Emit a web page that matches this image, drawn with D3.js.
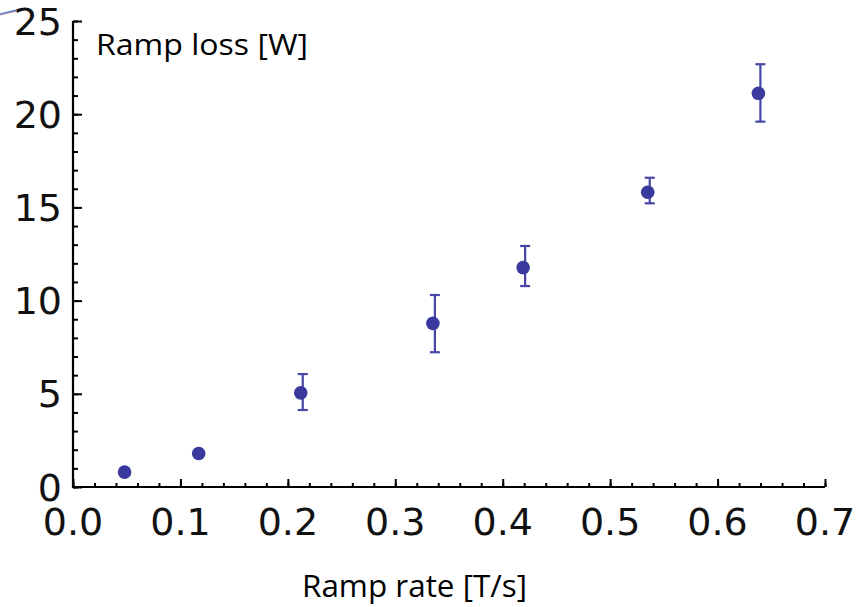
<!DOCTYPE html>
<html><head><meta charset="utf-8">
<script src="https://cdn.jsdelivr.net/npm/d3@7/dist/d3.min.js"></script>
<style>body{margin:0;background:#fff}svg{display:block}</style>
</head><body>
<svg id="c" width="866" height="607"></svg>
<script>
const rampRate = [0.048, 0.117, 0.212, 0.335, 0.419, 0.535, 0.638];
const rampLoss = [0.80, 1.80, 5.05, 8.78, 11.77, 15.81, 21.12];
const errLow   = [0.80, 1.80, 4.13, 7.23, 10.78, 15.22, 19.60];
const errHigh  = [0.80, 1.80, 6.06, 10.30, 12.93, 16.59, 22.68];
const xTicks = [0, 0.1, 0.2, 0.3, 0.4, 0.5, 0.6, 0.7];
const xTickLabels = ["0.0","0.1","0.2","0.3","0.4","0.5","0.6","0.7"];
const yTicks = [0, 5, 10, 15, 20, 25];
const yTickLabels = ["0","5","10","15","20","25"];
const xTitle = "Ramp rate [T/s]";
const yTitle = "Ramp loss [W]";

const svg = d3.select("#c");
const x = d3.scaleLinear().domain([0, 0.7]).range([73, 825]);
const y = d3.scaleLinear().domain([0, 25]).range([487, 21]);
const data = rampRate.map((r,i)=>({x:r,y:rampLoss[i],lo:errLow[i],hi:errHigh[i]}));

// small decorative stroke at top-left (cropped arrow)
svg.append("path").attr("d","M0,14 L17,10").attr("stroke","#d09090").attr("stroke-width",1.2).attr("fill","none").attr("transform","translate(0,1)");
svg.append("path").attr("d","M0,14 L17,10").attr("stroke","#5a7fd0").attr("stroke-width",1.6).attr("fill","none");

const font = "'DejaVu Sans', Verdana, sans-serif";

// x axis minor ticks
const xMinor = d3.range(0, 0.7001, 0.02);
const gxm = svg.append("g").attr("transform",`translate(0,${y(0)})`)
  .call(d3.axisTop(x).tickValues(xMinor).tickSize(4).tickFormat(""));
gxm.select(".domain").remove();
gxm.selectAll("line").attr("stroke","#000").attr("stroke-width",2);
const gx = svg.append("g").attr("transform",`translate(0,${y(0)})`)
  .call(d3.axisTop(x).tickValues(xTicks).tickSize(8).tickFormat(""));
gx.select(".domain").attr("d",`M${x(0)},0H${x(0.7)}`).attr("stroke","#000").attr("stroke-width",2.2);
gx.selectAll("line").attr("stroke","#000").attr("stroke-width",2);
svg.append("g").selectAll("text").data(xTicks).join("text")
  .attr("x",d=>x(d)).attr("y",535).attr("text-anchor","middle")
  .attr("font-family",font).attr("font-size",38).attr("fill","#111")
  .text((d,i)=>xTickLabels[i]);

// y axis
const yMinor = d3.range(0, 25.001, 1);
const gym = svg.append("g").attr("transform",`translate(${x(0)},0)`)
  .call(d3.axisRight(y).tickValues(yMinor).tickSize(5).tickFormat(""));
gym.select(".domain").remove();
gym.selectAll("line").attr("stroke","#000").attr("stroke-width",2);
const gy = svg.append("g").attr("transform",`translate(${x(0)},0)`)
  .call(d3.axisRight(y).tickValues(yTicks).tickSize(9).tickFormat(""));
gy.select(".domain").attr("d",`M0,${y(0)+1}V${y(25)}`).attr("stroke","#000").attr("stroke-width",2.2);
gy.selectAll("line").attr("stroke","#000").attr("stroke-width",2);
svg.append("g").selectAll("text").data(yTicks).join("text")
  .attr("x",62).attr("y",d=>y(d)).attr("dy","0.36em").attr("text-anchor","end")
  .attr("font-family",font).attr("font-size",38).attr("fill","#111")
  .text((d,i)=>yTickLabels[i]);

// titles
svg.append("text").attr("x",96).attr("y",55).attr("font-family","'Open Sans', sans-serif")
  .attr("font-size",30).attr("textLength",212).attr("lengthAdjust","spacingAndGlyphs").attr("fill","#000").text(yTitle);
svg.append("text").attr("x",302).attr("y",597).attr("font-family","'Open Sans', sans-serif")
  .attr("font-size",31).attr("textLength",225).attr("lengthAdjust","spacingAndGlyphs").attr("fill","#000").text(xTitle);

// error bars
const eb = svg.append("g").attr("stroke","#4646a6").attr("stroke-width",2.2);
const withErr = data.filter(d=>d.hi>d.lo);
eb.selectAll("line.v").data(withErr).join("line").attr("class","v")
  .attr("x1",d=>x(d.x)+2).attr("x2",d=>x(d.x)+2).attr("y1",d=>y(d.lo)).attr("y2",d=>y(d.hi));
eb.selectAll("line.t").data(withErr).join("line").attr("class","t")
  .attr("x1",d=>x(d.x)-3).attr("x2",d=>x(d.x)+7).attr("y1",d=>y(d.hi)).attr("y2",d=>y(d.hi));
eb.selectAll("line.b").data(withErr).join("line").attr("class","b")
  .attr("x1",d=>x(d.x)-3).attr("x2",d=>x(d.x)+7).attr("y1",d=>y(d.lo)).attr("y2",d=>y(d.lo));

// points
svg.append("g").selectAll("circle").data(data).join("circle")
  .attr("cx",d=>x(d.x)).attr("cy",d=>y(d.y)).attr("r",6.8).attr("fill","#3a3a9e");
</script>
</body></html>
